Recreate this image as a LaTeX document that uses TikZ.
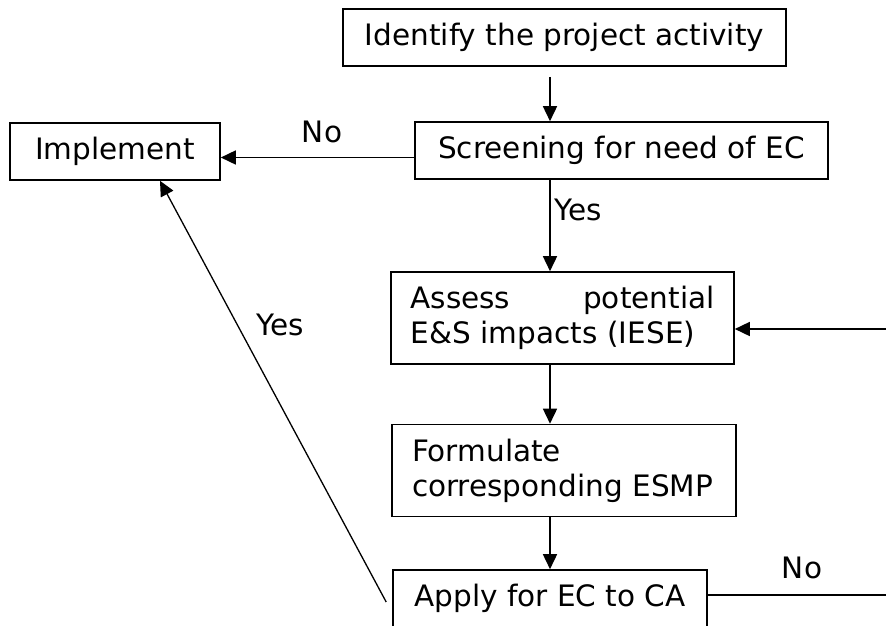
\documentclass[tikz,border=0pt]{standalone}
\usepackage{fontspec}
\setmainfont{DejaVu Sans}
\usetikzlibrary{arrows.meta}
\tikzset{
  box/.style={draw, line width=1.6pt, inner sep=0pt, minimum height=57pt, font=\fontsize{29.5}{35}\selectfont},
  twoline/.style={box, text width=304pt, align=left, minimum height=92pt},
  arr/.style={line width=1.6pt, -{Triangle[length=15pt,width=14pt]}},
  lbl/.style={font=\fontsize{29.5}{35}\selectfont}
}
\begin{document}
\begin{tikzpicture}[x=1pt,y=-1pt]
        \useasboundingbox (0,0) rectangle (886,625);
        \clip (0,0) rectangle (886,625);
        \node[box, minimum width=443pt] (ident) at (564.5, 37.5) {Identify the project activity};
        \node[box, minimum width=413pt] (screen) at (621.5, 150.5) {Screening for need of EC};
        \node[box, minimum width=210pt] (impl) at (115, 151.5) {Implement};
        \node[twoline, minimum width=343pt] (assess) at (562.5, 318) {Assess\hfill potential\\E\&S impacts (IESE)};
        \node[twoline, minimum width=344pt] (form) at (564, 470.5) {Formulate\\\mbox{corresponding ESMP}};
        \node[box, minimum width=314pt] (apply) at (550, 598.5) {Apply for EC to CA};
        \coordinate (spine) at (550, 0);
        \coordinate (rtop) at (886, 329);
        \coordinate (rbot) at (886, 595);
        \draw[arr] ([yshift=-10pt]ident.south -| spine) -- (screen.north -| spine);
        \draw[arr] (screen.south -| spine) -- (assess.north -| spine);
        \draw[arr] (assess.south -| spine) -- (form.north -| spine);
        \draw[arr] (form.south -| spine) -- (apply.north -| spine);
        \draw[arr] ([yshift=-7pt]screen.west) -- ([yshift=-7pt]screen.west -| impl.east);
        \draw[arr] (rtop) -- (rtop -| assess.east);
        \draw[line width=1.6pt] (apply.east |- rbot) -- (rbot);
        \draw[arr, line width=1.3pt] ([xshift=-6pt,yshift=-3.5pt]apply.west) -- ([xshift=45pt]impl.south);
        \node[lbl] (no1) at (322, 132) {No};
        \node[lbl] (yes1) at (578, 210) {Yes};
        \node[lbl] (yes2) at (280, 325) {Yes};
        \node[lbl] (no2) at (802, 568) {No};
    \end{tikzpicture}
\end{document}
